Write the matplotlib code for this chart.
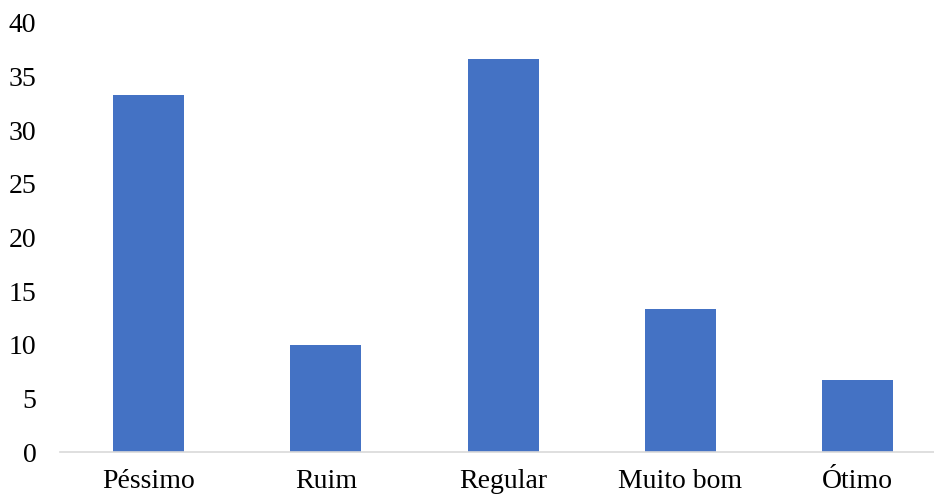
import matplotlib
matplotlib.use('Agg')
import matplotlib.pyplot as plt

categorias = ['Péssimo', 'Ruim', 'Regular', 'Muito bom', 'Ótimo']
valores = [33.33, 10.0, 36.67, 13.33, 6.67]
yticks = [0, 5, 10, 15, 20, 25, 30, 35, 40]

plt.rcParams['font.family'] = ['Liberation Serif', 'DejaVu Serif']

fig = plt.figure(figsize=(9.34, 4.95), dpi=100)
ax = fig.add_axes([60/934, 43/495, 1 - 60/934, (452-23)/495])

x = list(range(len(categorias)))
ax.bar(x, valores, width=0.4, color='#4472C4')

ax.set_xlim(-0.5, (934 - 59) / 177.5 - 0.5)
ax.set_ylim(0, 40)
ax.set_yticks(yticks)
ax.set_xticks(x)
ax.set_xticklabels(categorias)

for s in ['top', 'right', 'left']:
    ax.spines[s].set_visible(False)
ax.spines['bottom'].set_color('#D9D9D9')
ax.spines['bottom'].set_linewidth(1.2)
ax.tick_params(axis='both', length=0, labelsize=20, colors='black')
ax.tick_params(axis='y', pad=17)
ax.tick_params(axis='x', pad=12)

fig.savefig('out.png', dpi=100)
